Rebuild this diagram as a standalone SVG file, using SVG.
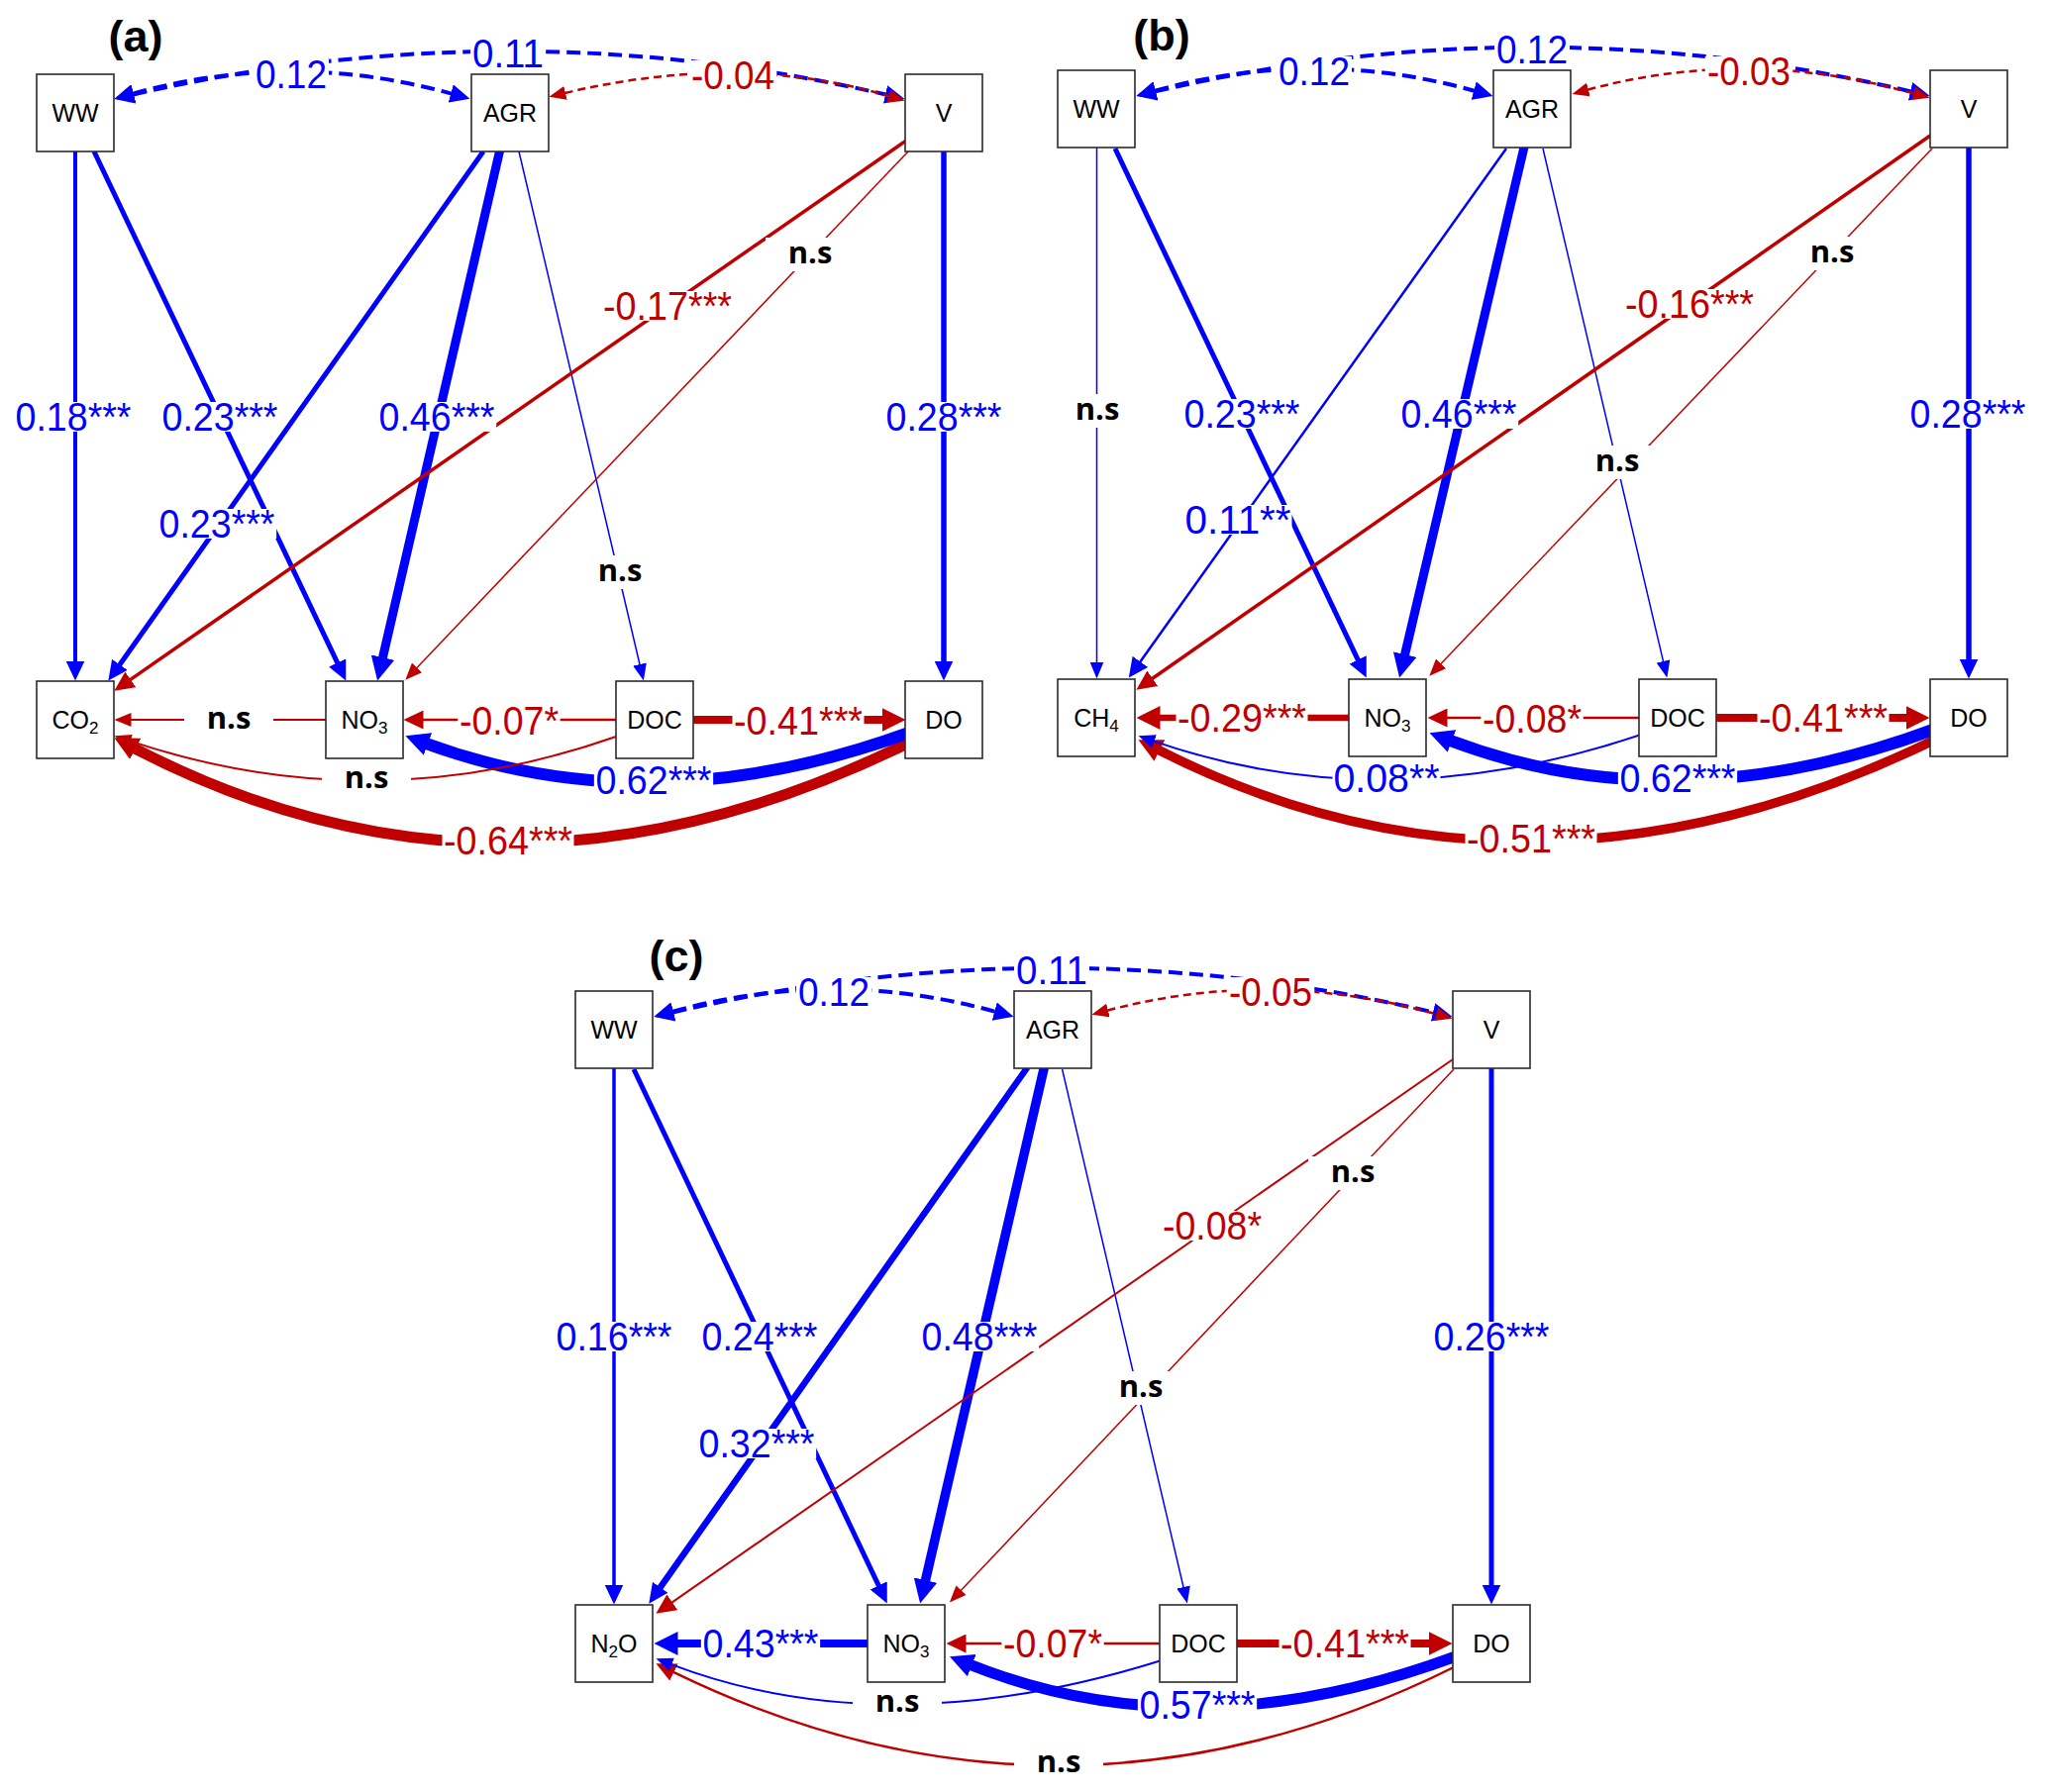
<svg xmlns="http://www.w3.org/2000/svg" width="2067" height="1810" viewBox="0 0 2067 1810">
<style>
.e{fill:none}
.b{stroke:#0000ff}
.r{stroke:#c00000}
.d1{stroke-dasharray:14 7}
.d2{stroke-dasharray:8 5}
.nd rect{fill:#fff;stroke:#2b2b2b;stroke-width:1.6}
.nd text{font-family:"Liberation Sans",Arial,sans-serif;font-size:25px;fill:#000;text-anchor:middle}
.sub{font-size:17px}
.bg{fill:#fff}
.t{font-family:"Liberation Sans",Arial,sans-serif;font-size:40px;text-anchor:middle}
.tb{fill:#0000ff}
.tr{fill:#c00000}
.ns{font-family:"Open Sans","Liberation Sans",sans-serif;font-weight:bold;font-size:31px;fill:#000;text-anchor:middle}
.pl{font-family:"Liberation Sans",Arial,sans-serif;font-weight:bold;font-size:45px;fill:#000;text-anchor:middle}
</style>
<defs>
<marker id="bs" markerUnits="userSpaceOnUse" viewBox="0 0 17 14" markerWidth="17" markerHeight="14" refX="0.5" refY="7" orient="auto-start-reverse"><path d="M0,0L17,7L0,14Z" fill="#0000ff"/></marker>
<marker id="bm" markerUnits="userSpaceOnUse" viewBox="0 0 20 19" markerWidth="20" markerHeight="19" refX="0.5" refY="9.5" orient="auto-start-reverse"><path d="M0,0L20,9.5L0,19Z" fill="#0000ff"/></marker>
<marker id="bl" markerUnits="userSpaceOnUse" viewBox="0 0 24 24" markerWidth="24" markerHeight="24" refX="0.5" refY="12" orient="auto-start-reverse"><path d="M0,0L24,12L0,24Z" fill="#0000ff"/></marker>
<marker id="rs" markerUnits="userSpaceOnUse" viewBox="0 0 17 14" markerWidth="17" markerHeight="14" refX="0.5" refY="7" orient="auto-start-reverse"><path d="M0,0L17,7L0,14Z" fill="#c00000"/></marker>
<marker id="rm" markerUnits="userSpaceOnUse" viewBox="0 0 20 19" markerWidth="20" markerHeight="19" refX="0.5" refY="9.5" orient="auto-start-reverse"><path d="M0,0L20,9.5L0,19Z" fill="#c00000"/></marker>
<marker id="rl" markerUnits="userSpaceOnUse" viewBox="0 0 24 24" markerWidth="24" markerHeight="24" refX="0.5" refY="12" orient="auto-start-reverse"><path d="M0,0L24,12L0,24Z" fill="#c00000"/></marker>
</defs>
<rect width="2067" height="1810" fill="#fff"/>

<g id="connectors">
<!-- panel a -->
<path class="e b" stroke-width="4" d="M76,150 L76,668" marker-end="url(#bm)"/>
<path class="e b" stroke-width="5" d="M95,153 L340.9,669.9" marker-end="url(#bm)"/>
<path class="e b" stroke-width="5" d="M488,153 L120.6,671.7" marker-end="url(#bm)"/>
<path class="e b" stroke-width="9" d="M505.6,148 L386.4,664.6" marker-end="url(#bl)"/>
<path class="e b" stroke-width="1.5" d="M524,153 L646.1,671.5" marker-end="url(#bs)"/>
<path class="e r" stroke-width="3.5" d="M915,142 L131.4,686.6" marker-end="url(#rm)"/>
<path class="e r" stroke-width="1.5" d="M917,153 L420.7,674.7" marker-end="url(#rs)"/>
<path class="e b" stroke-width="5.5" d="M953,150 L953,668" marker-end="url(#bm)"/>
<path class="e r" stroke-width="2" d="M332,727 L132,727" marker-end="url(#rs)"/>
<path class="e r" stroke-width="2.5" d="M625,727 L427,727" marker-end="url(#rm)"/>
<path class="e r" stroke-width="8" d="M697,727 L891,727" marker-end="url(#rl)"/>
<path class="e r" stroke-width="11" d="M918,750 Q511,950.5 136.3,756.1" marker-end="url(#rl)"/>
<path class="e b" stroke-width="12" d="M918,740 Q658,834.5 431.5,751.3" marker-end="url(#bl)"/>
<path class="e r" stroke-width="2" d="M622,744 Q376.5,830.5 131.1,748.4" marker-end="url(#rs)"/>
<path class="e b d1" stroke-width="4" d="M134.3,94.6 Q295,50 455.7,94.6" marker-start="url(#bm)" marker-end="url(#bm)"/>
<path class="e b d1" stroke-width="4" d="M134.5,95.5 Q514.5,8 894.5,95.5" marker-start="url(#bm)" marker-end="url(#bm)"/>
<path class="e r d2" stroke-width="2.5" d="M570.5,94 Q746,52 897.7,97.15" marker-start="url(#rs)" marker-end="url(#rs)"/>
<!-- panel b -->
<path class="e b" stroke-width="1.5" d="M1107.5,149 L1107.5,669" marker-end="url(#bs)"/>
<path class="e b" stroke-width="5" d="M1126,150 L1371.4,666.9" marker-end="url(#bm)"/>
<path class="e b" stroke-width="2.5" d="M1521,150 L1151.1,668.7" marker-end="url(#bm)"/>
<path class="e b" stroke-width="9" d="M1539.6,146 L1418.5,661.6" marker-end="url(#bl)"/>
<path class="e b" stroke-width="1.5" d="M1558,150 L1679.6,668.4" marker-end="url(#bs)"/>
<path class="e r" stroke-width="3.5" d="M1949,137 L1163.4,685.55" marker-end="url(#rm)"/>
<path class="e r" stroke-width="1.5" d="M1951,150 L1454.7,670.7" marker-end="url(#rs)"/>
<path class="e b" stroke-width="5.5" d="M1988,147 L1988,666" marker-end="url(#bm)"/>
<path class="e r" stroke-width="6.5" d="M1365,725 L1171,725" marker-end="url(#rl)"/>
<path class="e r" stroke-width="2.5" d="M1658,725 L1461,725" marker-end="url(#rm)"/>
<path class="e r" stroke-width="8" d="M1731,725 L1925,725" marker-end="url(#rl)"/>
<path class="e r" stroke-width="9.5" d="M1952,748 Q1543,946.5 1170.4,757.8" marker-end="url(#rl)"/>
<path class="e b" stroke-width="12" d="M1952,737 Q1692,833.5 1465.5,748.4" marker-end="url(#bl)"/>
<path class="e b" stroke-width="2" d="M1657,742 Q1398,829.5 1165.1,748.6" marker-end="url(#bs)"/>
<path class="e b d1" stroke-width="4" d="M1166.3,91.7 Q1327.5,47 1488.7,91.7" marker-start="url(#bm)" marker-end="url(#bm)"/>
<path class="e b d1" stroke-width="4" d="M1166.5,92.4 Q1548,3 1929.5,92.4" marker-start="url(#bm)" marker-end="url(#bm)"/>
<path class="e r d2" stroke-width="2.5" d="M1603.4,90.6 Q1764,47 1932.6,94.4" marker-start="url(#rs)" marker-end="url(#rs)"/>
<!-- panel c -->
<path class="e b" stroke-width="3.5" d="M620,1078 L620,1601" marker-end="url(#bm)"/>
<path class="e b" stroke-width="5" d="M640,1080 L887.4,1601.9" marker-end="url(#bm)"/>
<path class="e b" stroke-width="6.5" d="M1037.5,1078 L666.5,1603.7" marker-end="url(#bm)"/>
<path class="e b" stroke-width="9.5" d="M1055.1,1075 L934.4,1596.6" marker-end="url(#bl)"/>
<path class="e b" stroke-width="1.5" d="M1072.6,1080 L1195.1,1603.5" marker-end="url(#bs)"/>
<path class="e r" stroke-width="2" d="M1467,1070 L678.4,1618.6" marker-end="url(#rm)"/>
<path class="e r" stroke-width="1.5" d="M1468,1080 L970.2,1606.6" marker-end="url(#rs)"/>
<path class="e b" stroke-width="5" d="M1506,1078 L1506,1601" marker-end="url(#bm)"/>
<path class="e b" stroke-width="8" d="M879,1660 L684,1660" marker-end="url(#bl)"/>
<path class="e r" stroke-width="2.5" d="M1174,1660 L975,1660" marker-end="url(#rm)"/>
<path class="e r" stroke-width="8" d="M1247,1660 L1443,1660" marker-end="url(#rl)"/>
<path class="e b" stroke-width="11" d="M1470,1673 Q1205.25,1771 980.8,1681.9" marker-end="url(#bl)"/>
<path class="e r" stroke-width="2.5" d="M1470,1683 Q1073.5,1880.5 680,1688.8" marker-end="url(#rm)"/>
<path class="e b" stroke-width="2" d="M1173,1677 Q895.5,1764 677.9,1681.1" marker-end="url(#bs)"/>
<path class="e b d1" stroke-width="4" d="M679.3,1021.7 Q842,977 1004.7,1021.7" marker-start="url(#bm)" marker-end="url(#bm)"/>
<path class="e b d1" stroke-width="4" d="M679.5,1022.5 Q1063.5,933 1447.5,1022.5" marker-start="url(#bm)" marker-end="url(#bm)"/>
<path class="e r d2" stroke-width="2.5" d="M1118.4,1020.6 Q1281.5,977 1450.6,1024.4" marker-start="url(#rs)" marker-end="url(#rs)"/>
</g>

<!-- nodes panel a -->
<g id="a-WW" class="nd"><rect x="37" y="75" width="78" height="78"/><text x="76" y="123">WW</text></g>
<g id="a-AGR" class="nd"><rect x="476" y="75" width="78" height="78"/><text x="515" y="123">AGR</text></g>
<g id="a-V" class="nd"><rect x="914" y="75" width="78" height="78"/><text x="953" y="123">V</text></g>
<g id="a-CO2" class="nd"><rect x="37" y="688" width="78" height="78"/><text x="76" y="736">CO<tspan class="sub" dy="5">2</tspan></text></g>
<g id="a-NO3" class="nd"><rect x="329" y="688" width="78" height="78"/><text x="368" y="736">NO<tspan class="sub" dy="5">3</tspan></text></g>
<g id="a-DOC" class="nd"><rect x="622" y="688" width="78" height="78"/><text x="661" y="736">DOC</text></g>
<g id="a-DO" class="nd"><rect x="914" y="688" width="78" height="78"/><text x="953" y="736">DO</text></g>
<!-- nodes panel b -->
<g id="b-WW" class="nd"><rect x="1068" y="71" width="78" height="78"/><text x="1107" y="119">WW</text></g>
<g id="b-AGR" class="nd"><rect x="1508" y="71" width="78" height="78"/><text x="1547" y="119">AGR</text></g>
<g id="b-V" class="nd"><rect x="1949" y="71" width="78" height="78"/><text x="1988" y="119">V</text></g>
<g id="b-CH4" class="nd"><rect x="1068" y="686" width="78" height="78"/><text x="1107" y="734">CH<tspan class="sub" dy="5">4</tspan></text></g>
<g id="b-NO3" class="nd"><rect x="1362" y="686" width="78" height="78"/><text x="1401" y="734">NO<tspan class="sub" dy="5">3</tspan></text></g>
<g id="b-DOC" class="nd"><rect x="1655" y="686" width="78" height="78"/><text x="1694" y="734">DOC</text></g>
<g id="b-DO" class="nd"><rect x="1949" y="686" width="78" height="78"/><text x="1988" y="734">DO</text></g>
<!-- nodes panel c -->
<g id="c-WW" class="nd"><rect x="581" y="1001" width="78" height="78"/><text x="620" y="1049">WW</text></g>
<g id="c-AGR" class="nd"><rect x="1024" y="1001" width="78" height="78"/><text x="1063" y="1049">AGR</text></g>
<g id="c-V" class="nd"><rect x="1467" y="1001" width="78" height="78"/><text x="1506" y="1049">V</text></g>
<g id="c-N2O" class="nd"><rect x="581" y="1621" width="78" height="78"/><text x="620" y="1669">N<tspan class="sub" dy="5">2</tspan><tspan dy="-5">O</tspan></text></g>
<g id="c-NO3" class="nd"><rect x="876" y="1621" width="78" height="78"/><text x="915" y="1669">NO<tspan class="sub" dy="5">3</tspan></text></g>
<g id="c-DOC" class="nd"><rect x="1171" y="1621" width="78" height="78"/><text x="1210" y="1669">DOC</text></g>
<g id="c-DO" class="nd"><rect x="1467" y="1621" width="78" height="78"/><text x="1506" y="1669">DO</text></g>

<g id="edge-labels">
<!-- a -->
<rect class="bg" x="256" y="60" width="76" height="30"/><text class="t tb" x="294" y="89" textLength="72" lengthAdjust="spacingAndGlyphs">0.12</text>
<rect class="bg" x="475" y="39" width="76" height="30"/><text class="t tb" x="513" y="68" textLength="72" lengthAdjust="spacingAndGlyphs">0.11</text>
<rect class="bg" x="695.7" y="61" width="88.6" height="30"/><text class="t tr" x="740" y="90" textLength="84" lengthAdjust="spacingAndGlyphs">-0.04</text>
<rect class="bg" x="13.85" y="406" width="120.3" height="30"/><text class="t tb" x="74" y="435" textLength="117" lengthAdjust="spacingAndGlyphs">0.18***</text>
<rect class="bg" x="161.85" y="406" width="120.3" height="30"/><text class="t tb" x="222" y="435" textLength="117" lengthAdjust="spacingAndGlyphs">0.23***</text>
<rect class="bg" x="380.85" y="406" width="120.3" height="30"/><text class="t tb" x="441" y="435" textLength="117" lengthAdjust="spacingAndGlyphs">0.46***</text>
<rect class="bg" x="607.5" y="294" width="133" height="30"/><text class="t tr" x="674" y="323" textLength="130" lengthAdjust="spacingAndGlyphs">-0.17***</text>
<rect class="bg" x="773" y="240" width="90" height="34"/><text class="ns" x="818" y="266">n.s</text>
<rect class="bg" x="892.85" y="406" width="120.3" height="30"/><text class="t tb" x="953" y="435" textLength="117" lengthAdjust="spacingAndGlyphs">0.28***</text>
<rect class="bg" x="158.85" y="514" width="120.3" height="30"/><text class="t tb" x="219" y="543" textLength="117" lengthAdjust="spacingAndGlyphs">0.23***</text>
<rect class="bg" x="581" y="561" width="90" height="34"/><text class="ns" x="626" y="587">n.s</text>
<rect class="bg" x="186" y="710" width="90" height="34"/><text class="ns" x="231" y="736">n.s</text>
<rect class="bg" x="462.3" y="713" width="103.4" height="30"/><text class="t tr" x="514" y="742" textLength="100" lengthAdjust="spacingAndGlyphs">-0.07*</text>
<rect class="bg" x="739.5" y="713" width="133" height="30"/><text class="t tr" x="806" y="742" textLength="130" lengthAdjust="spacingAndGlyphs">-0.41***</text>
<rect class="bg" x="325" y="770" width="90" height="34"/><text class="ns" x="370" y="796">n.s</text>
<rect class="bg" x="599.85" y="773" width="120.3" height="30"/><text class="t tb" x="660" y="802" textLength="117" lengthAdjust="spacingAndGlyphs">0.62***</text>
<rect class="bg" x="446.5" y="834" width="133" height="30"/><text class="t tr" x="513" y="863" textLength="130" lengthAdjust="spacingAndGlyphs">-0.64***</text>
<!-- b -->
<rect class="bg" x="1289" y="57" width="76" height="30"/><text class="t tb" x="1327" y="86" textLength="72" lengthAdjust="spacingAndGlyphs">0.12</text>
<rect class="bg" x="1509" y="35" width="76" height="30"/><text class="t tb" x="1547" y="64" textLength="72" lengthAdjust="spacingAndGlyphs">0.12</text>
<rect class="bg" x="1721.7" y="57" width="88.6" height="30"/><text class="t tr" x="1766" y="86" textLength="84" lengthAdjust="spacingAndGlyphs">-0.03</text>
<rect class="bg" x="1063" y="398" width="90" height="34"/><text class="ns" x="1108" y="424">n.s</text>
<rect class="bg" x="1193.85" y="403" width="120.3" height="30"/><text class="t tb" x="1254" y="432" textLength="117" lengthAdjust="spacingAndGlyphs">0.23***</text>
<rect class="bg" x="1412.85" y="403" width="120.3" height="30"/><text class="t tb" x="1473" y="432" textLength="117" lengthAdjust="spacingAndGlyphs">0.46***</text>
<rect class="bg" x="1639.5" y="292" width="133" height="30"/><text class="t tr" x="1706" y="321" textLength="130" lengthAdjust="spacingAndGlyphs">-0.16***</text>
<rect class="bg" x="1805" y="239" width="90" height="34"/><text class="ns" x="1850" y="265">n.s</text>
<rect class="bg" x="1926.85" y="403" width="120.3" height="30"/><text class="t tb" x="1987" y="432" textLength="117" lengthAdjust="spacingAndGlyphs">0.28***</text>
<rect class="bg" x="1195.5" y="510" width="109" height="30"/><text class="t tb" x="1250" y="539" textLength="107" lengthAdjust="spacingAndGlyphs">0.11**</text>
<rect class="bg" x="1588" y="450" width="90" height="34"/><text class="ns" x="1633" y="476">n.s</text>
<rect class="bg" x="1187.5" y="710" width="133" height="30"/><text class="t tr" x="1254" y="739" textLength="130" lengthAdjust="spacingAndGlyphs">-0.29***</text>
<rect class="bg" x="1495.3" y="711" width="103.4" height="30"/><text class="t tr" x="1547" y="740" textLength="100" lengthAdjust="spacingAndGlyphs">-0.08*</text>
<rect class="bg" x="1774.5" y="710" width="133" height="30"/><text class="t tr" x="1841" y="739" textLength="130" lengthAdjust="spacingAndGlyphs">-0.41***</text>
<rect class="bg" x="1345.5" y="771" width="109" height="30"/><text class="t tb" x="1400" y="800" textLength="107" lengthAdjust="spacingAndGlyphs">0.08**</text>
<rect class="bg" x="1633.85" y="771" width="120.3" height="30"/><text class="t tb" x="1694" y="800" textLength="117" lengthAdjust="spacingAndGlyphs">0.62***</text>
<rect class="bg" x="1479.5" y="832" width="133" height="30"/><text class="t tr" x="1546" y="861" textLength="130" lengthAdjust="spacingAndGlyphs">-0.51***</text>
<!-- c -->
<rect class="bg" x="804" y="987" width="76" height="30"/><text class="t tb" x="842" y="1016" textLength="72" lengthAdjust="spacingAndGlyphs">0.12</text>
<rect class="bg" x="1024" y="965" width="76" height="30"/><text class="t tb" x="1062" y="994" textLength="72" lengthAdjust="spacingAndGlyphs">0.11</text>
<rect class="bg" x="1238.7" y="987" width="88.6" height="30"/><text class="t tr" x="1283" y="1016" textLength="84" lengthAdjust="spacingAndGlyphs">-0.05</text>
<rect class="bg" x="559.85" y="1335" width="120.3" height="30"/><text class="t tb" x="620" y="1364" textLength="117" lengthAdjust="spacingAndGlyphs">0.16***</text>
<rect class="bg" x="706.85" y="1335" width="120.3" height="30"/><text class="t tb" x="767" y="1364" textLength="117" lengthAdjust="spacingAndGlyphs">0.24***</text>
<rect class="bg" x="928.85" y="1335" width="120.3" height="30"/><text class="t tb" x="989" y="1364" textLength="117" lengthAdjust="spacingAndGlyphs">0.48***</text>
<rect class="bg" x="1172.3" y="1223" width="103.4" height="30"/><text class="t tr" x="1224" y="1252" textLength="100" lengthAdjust="spacingAndGlyphs">-0.08*</text>
<rect class="bg" x="1321" y="1168" width="90" height="34"/><text class="ns" x="1366" y="1194">n.s</text>
<rect class="bg" x="1445.85" y="1335" width="120.3" height="30"/><text class="t tb" x="1506" y="1364" textLength="117" lengthAdjust="spacingAndGlyphs">0.26***</text>
<rect class="bg" x="703.85" y="1443" width="120.3" height="30"/><text class="t tb" x="764" y="1472" textLength="117" lengthAdjust="spacingAndGlyphs">0.32***</text>
<rect class="bg" x="1107" y="1385" width="90" height="34"/><text class="ns" x="1152" y="1411">n.s</text>
<rect class="bg" x="707.85" y="1645" width="120.3" height="30"/><text class="t tb" x="768" y="1674" textLength="117" lengthAdjust="spacingAndGlyphs">0.43***</text>
<rect class="bg" x="1011.3" y="1645" width="103.4" height="30"/><text class="t tr" x="1063" y="1674" textLength="100" lengthAdjust="spacingAndGlyphs">-0.07*</text>
<rect class="bg" x="1291.5" y="1645" width="133" height="30"/><text class="t tr" x="1358" y="1674" textLength="130" lengthAdjust="spacingAndGlyphs">-0.41***</text>
<rect class="bg" x="861" y="1703" width="90" height="34"/><text class="ns" x="906" y="1729">n.s</text>
<rect class="bg" x="1148.85" y="1707" width="120.3" height="30"/><text class="t tb" x="1209" y="1736" textLength="117" lengthAdjust="spacingAndGlyphs">0.57***</text>
<rect class="bg" x="1024" y="1764" width="90" height="34"/><text class="ns" x="1069" y="1790">n.s</text>
</g>

<g id="panel-labels">
<text class="pl" x="137" y="52">(a)</text>
<text class="pl" x="1173" y="51">(b)</text>
<text class="pl" x="683" y="981">(c)</text>
</g>
</svg>
